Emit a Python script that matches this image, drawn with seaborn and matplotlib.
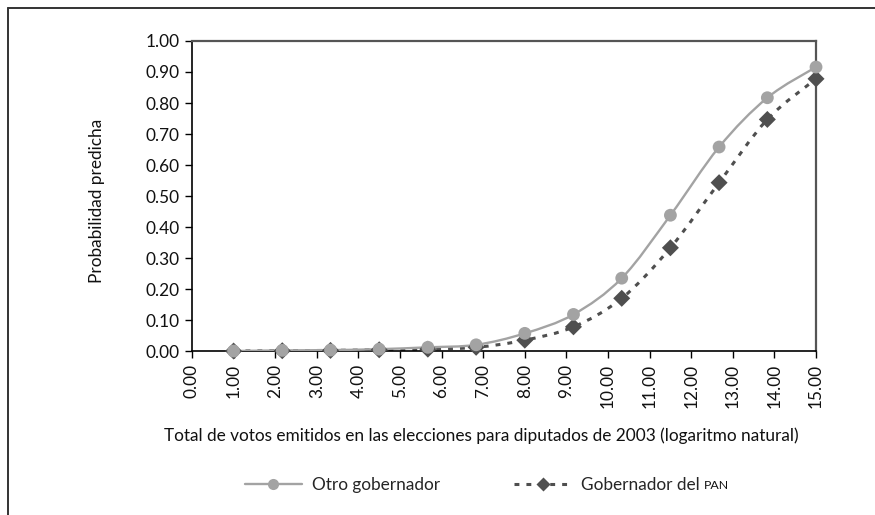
import numpy as np
import pandas as pd
import matplotlib
matplotlib.use("Agg")
import matplotlib.pyplot as plt
from matplotlib.path import Path
from matplotlib.patches import PathPatch
from matplotlib.lines import Line2D
import seaborn as sns

# Data
log_votos = [1.00, 2.17, 3.33, 4.50, 5.67, 6.83, 8.00, 9.17, 10.33, 11.50, 12.67, 13.83, 15.00]
otro_gob = [0.000, 0.002, 0.003, 0.006, 0.012, 0.020, 0.057, 0.118, 0.235, 0.438, 0.658, 0.817, 0.916]
gob_pan = [0.000, 0.001, 0.002, 0.004, 0.006, 0.012, 0.035, 0.078, 0.170, 0.333, 0.543, 0.747, 0.878]
x_ticks = list(range(0, 16))
y_ticks = [i / 10 for i in range(0, 11)]

df = pd.DataFrame({"x": log_votos, "otro": otro_gob, "pan": gob_pan})

sns.set_style("ticks")
plt.rcParams["font.family"] = ["Lato", "DejaVu Sans"]
FS = 12.4

GRAY = "#a3a3a3"
DARK = "#4f4f4f"


def smooth_path(x, y):
    # excel-style smoothed line (catmull-rom as bezier segments)
    pts = np.column_stack([x, y]).astype(float)
    n = len(pts)
    verts = [pts[0]]
    codes = [Path.MOVETO]
    for i in range(n - 1):
        p0 = pts[i - 1] if i > 0 else pts[i]
        p1 = pts[i]
        p2 = pts[i + 1]
        p3 = pts[i + 2] if i + 2 < n else pts[i + 1]
        verts += [p1 + (p2 - p0) / 6, p2 - (p3 - p1) / 6, p2]
        codes += [Path.CURVE4] * 3
    return Path(verts, codes)


fig = plt.figure(figsize=(8.75, 5.15), dpi=100)
ax = fig.add_axes([0.2194, 0.3184, 0.7132, 0.602])

ax.add_patch(PathPatch(smooth_path(df["x"], df["pan"]), fill=False, edgecolor=DARK,
                       lw=2.2, linestyle=(0, (1.6, 2.3)), zorder=2))
ax.add_patch(PathPatch(smooth_path(df["x"], df["otro"]), fill=False, edgecolor=GRAY,
                       lw=1.7, zorder=3))
sns.scatterplot(data=df, x="x", y="pan", ax=ax, marker="D", s=75, color=DARK,
                edgecolor="none", zorder=4, clip_on=False)
sns.scatterplot(data=df, x="x", y="otro", ax=ax, marker="o", s=85, color=GRAY,
                edgecolor="none", zorder=5, clip_on=False)

ax.set_xlim(0, 15)
ax.set_ylim(0, 1)
ax.set_xticks(x_ticks)
ax.set_xticklabels([f"{v:.2f}" for v in x_ticks], rotation=90, fontsize=FS)
ax.set_yticks(y_ticks)
ax.set_yticklabels([f"{v:.2f}" for v in y_ticks], fontsize=FS)
ax.tick_params(axis="both", length=5, width=1, color="black", colors="#111111", pad=4)
ax.set_xlabel("")
ax.set_ylabel("")

for side in ["top", "right"]:
    ax.spines[side].set_visible(True)
    ax.spines[side].set_color("#555555")
    ax.spines[side].set_linewidth(1.6)
for side in ["left", "bottom"]:
    ax.spines[side].set_color("black")
    ax.spines[side].set_linewidth(1.2)

fig.text(0.111, 0.61, "Probabilidad predicha", rotation=90, ha="center", va="center",
         fontsize=FS, color="#111111")
fig.text(0.55, 0.153, "Total de votos emitidos en las elecciones para diputados de 2003 (logaritmo natural)",
         ha="center", va="center", fontsize=FS, color="#111111")

handles = [
    Line2D([], [], color=GRAY, lw=1.7, marker="o", markersize=8, markeredgecolor="none"),
    Line2D([], [], color=DARK, lw=2.2, linestyle=(0, (1.6, 2.3)), marker="D",
           markersize=7, markeredgecolor="none"),
]
leg = fig.legend(handles, ["Otro gobernador", "Gobernador del"], loc="center",
                 bbox_to_anchor=(0.54, 0.058), ncol=2, frameon=False, fontsize=FS,
                 handlelength=3.3, columnspacing=4.3, handletextpad=0.6)

# small caps "PAN" after the second legend label
fig.canvas.draw()
bb = leg.get_texts()[1].get_window_extent(fig.canvas.get_renderer())
fig.text((bb.x1 + 4) / fig.bbox.width, (bb.y0 + 2) / fig.bbox.height, "PAN",
         fontsize=FS * 0.72, ha="left", va="bottom", color="#111111")

# outer frame: top and left edges only
fig.add_artist(Line2D([8 / 875, 1.0], [1 - 8 / 515, 1 - 8 / 515], transform=fig.transFigure,
                      color="#333333", lw=1.4))
fig.add_artist(Line2D([8 / 875, 8 / 875], [0.0, 1 - 8 / 515], transform=fig.transFigure,
                      color="#333333", lw=1.4))

fig.savefig("out.png", dpi=100)
